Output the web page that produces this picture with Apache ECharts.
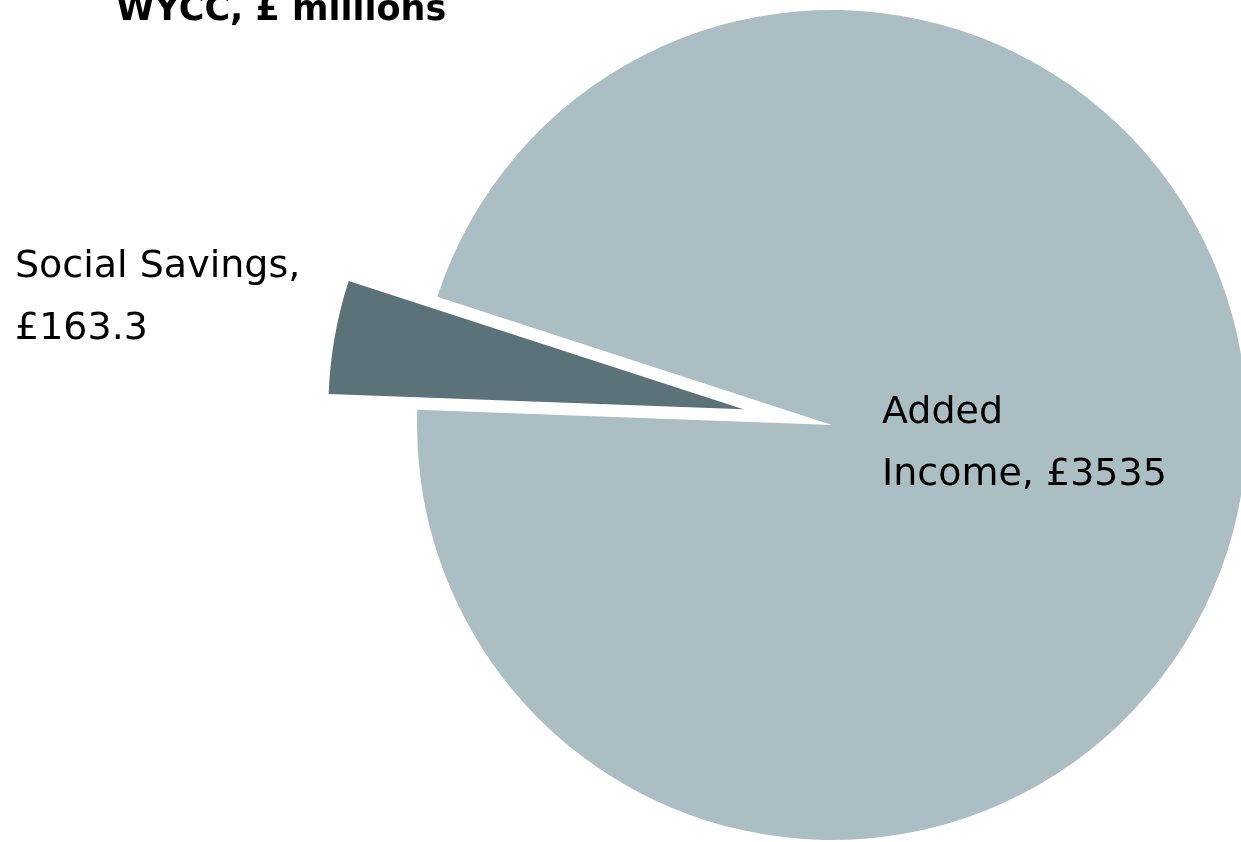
<!DOCTYPE html>
<html>
<head>
<meta charset="utf-8">
<script src="https://cdn.jsdelivr.net/npm/echarts@6/dist/echarts.min.js"></script>
<style>
  html, body { margin: 0; padding: 0; background: #fff; }
  #chart { width: 1241px; height: 842px; }
</style>
</head>
<body>
<div id="chart"></div>
<script>
const categories = ['Added Income', 'Social Savings'];
const values = [3535, 163.3];
const colors = ['#abbec4', '#5b7279'];

// where each label sits
const labelPos = [
  {x: 882, y: 444},
  {x: 15, y: 298}
];

const chart = echarts.init(document.getElementById('chart'));

const pieBase = {
  type: 'pie',
  center: [832, 425],
  radius: 415,
  startAngle: 162,
  clockwise: true,
  emphasis: {scale: false},
  labelLine: {show: false}
};

chart.setOption({
  animation: false,
  title: {
    text: 'WYCC, £ millions',
    left: 111,
    top: -12,
    textStyle: {
      fontFamily: 'DejaVu Sans',
      fontWeight: 'bold',
      fontSize: 35,
      color: '#000'
    }
  },
  series: [
    // slices, with Social Savings pulled out
    Object.assign({}, pieBase, {
      selectedMode: 'single',
      selectedOffset: 90,
      label: {show: false},
      data: categories.map(function (c, i) {
        return {
          name: c,
          value: values[i],
          selected: i === 1,
          itemStyle: {color: colors[i]}
        };
      })
    }),
    // labels only
    Object.assign({}, pieBase, {
      silent: true,
      itemStyle: {color: 'transparent'},
      label: {
        show: true,
        position: 'inside',
        color: '#000',
        fontFamily: 'DejaVu Sans',
        fontSize: 38,
        lineHeight: 62,
        formatter: function (p) {
          if (p.dataIndex === 0) {
            return p.name.replace(' ', '\n') + ', £' + p.value;
          }
          return p.name + ',\n£' + p.value;
        }
      },
      labelLayout: function (p) {
        return {
          x: labelPos[p.dataIndex].x,
          y: labelPos[p.dataIndex].y,
          align: 'left',
          verticalAlign: 'middle'
        };
      },
      data: categories.map(function (c, i) {
        return {name: c, value: values[i]};
      })
    })
  ]
});
</script>
</body>
</html>
